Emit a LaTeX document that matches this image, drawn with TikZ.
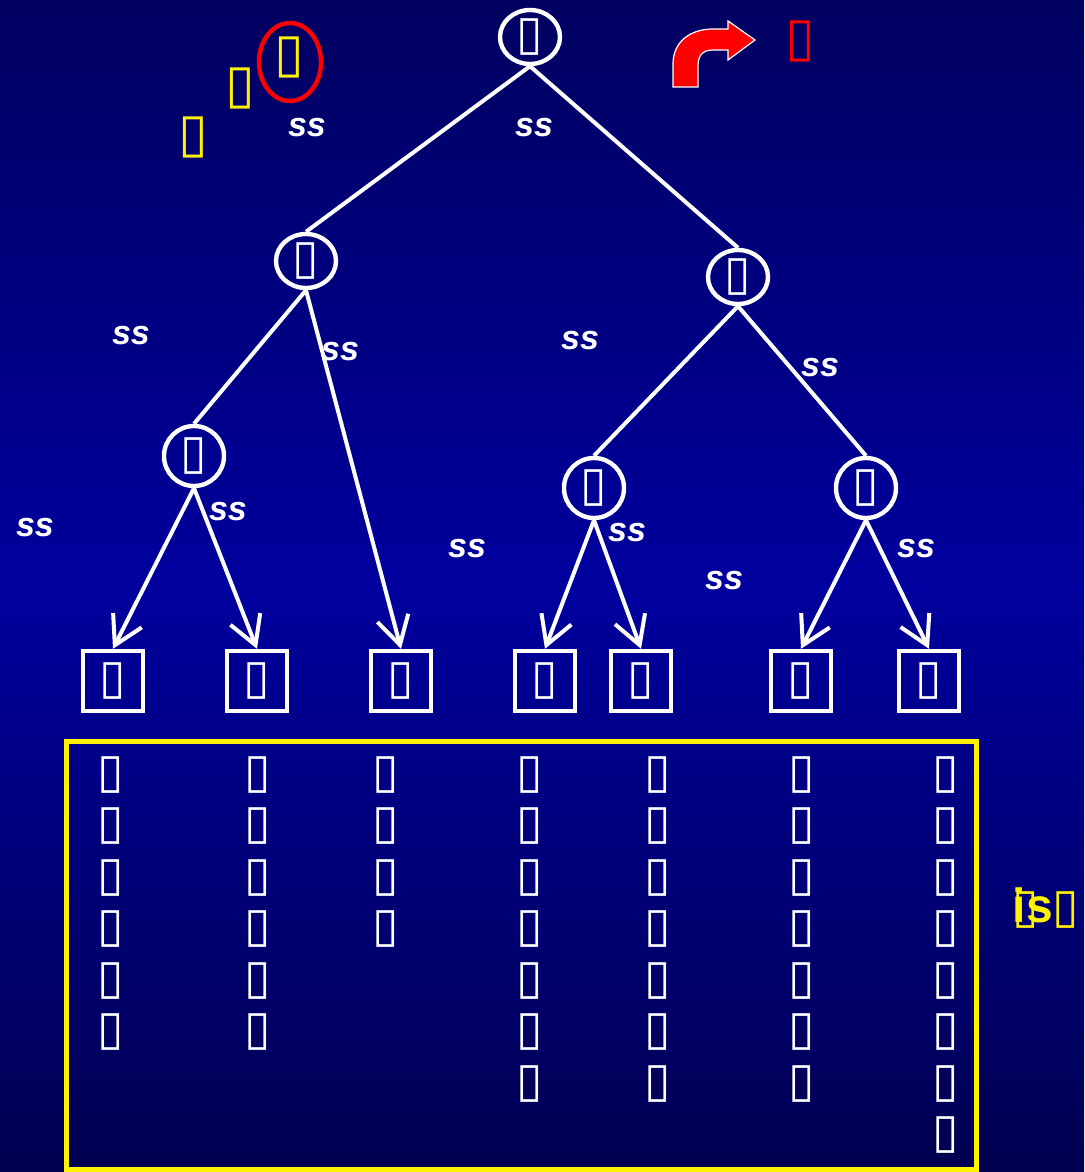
\documentclass[tikz,border=0pt]{standalone}
\usepackage{fontspec}
\setmainfont{Liberation Sans}
\newfontfamily\boxfont{DejaVu Sans}
\usetikzlibrary{arrows.meta,shapes.geometric,positioning}
\definecolor{navytop}{RGB}{0,0,96}
\definecolor{navymid}{RGB}{0,0,158}
\definecolor{navybot}{RGB}{0,0,80}
\newcommand{\tf}{{\boxfont\symbol{"25AF}}}

\begin{document}
\begin{tikzpicture}[x=0.5pt,y=-0.5pt,
  every node/.style={text=white,font=\fontsize{24}{26}\selectfont},
  innernode/.style={draw=white,line width=2.2pt,ellipse,inner sep=0pt,minimum width=30pt,minimum height=27pt},
  roundnode/.style={innernode,minimum height=30pt},
  leafnode/.style={draw=white,line width=2.2pt,rectangle,inner sep=0pt,minimum size=30pt},
  branch/.style={draw=white,line width=2pt},
  arr/.style={branch,line cap=round,-{Straight Barb[length=14pt,width=16pt,line width=2pt]}},
  lab/.style={font=\fontsize{17}{19}\selectfont\bfseries\itshape},
  hint/.style={font=\fontsize{27}{29}\selectfont,text=yellow},
  col/.style={font=\fontsize{24}{26}\selectfont}]
\useasboundingbox (0,0) rectangle (1084,1172);
\shade[top color=navytop,bottom color=navybot,middle color=navymid] (0,0) rectangle (1084,1172);

% tree
\node[innernode] (root) at (530,37) {\tf};
\node[innernode] (L) at (306,261) {\tf};
\node[innernode] (R) at (738,277) {\tf};
\node[roundnode] (LL) at (194,456) {\tf};
\node[roundnode] (RL) at (594,488) {\tf};
\node[roundnode] (RR) at (866,488) {\tf};

\foreach \n/\x in {1/113,2/257,3/401,4/545,5/641,6/801,7/929}
  \node[leafnode] (k\n) at (\x,681) {\tf};

\draw[branch] (root.south) -- (L.north);
\draw[branch] (root.south) -- (R.north);
\draw[branch] (L.south) -- (LL.north);
\draw[branch] (R.south) -- (RL.north);
\draw[branch] (R.south) -- (RR.north);
\draw[arr] (L.south) -- (k3.north);
\draw[arr] (LL.south) -- (k1.north);
\draw[arr] (LL.south) -- (k2.north);
\draw[arr] (RL.south) -- (k4.north);
\draw[arr] (RL.south) -- (k5.north);
\draw[arr] (RR.south) -- (k6.north);
\draw[arr] (RR.south) -- (k7.north);

% ss labels
\foreach \x/\y [count=\i] in {307/128,534/128,131/336,340/352,580/341,820/368,
    35/528,228/512,467/549,627/533,724/581,916/549}
  \node[lab] (s\i) at (\x,\y) {ss};

% marks top left
\node[hint] (m1) at (289,57) {\tf};
\node[hint] (m2) at (240,88) {\tf};
\node[hint] (m3) at (193,137) {\tf};
\draw[red,line width=2.2pt] (290,62) ellipse (31 and 39);

% bent arrow
\draw[white,line width=0.6pt,fill=red] (673,87) -- (673,64)
  .. controls (673,42) and (690,29) .. (713,29) -- (728,29) -- (728,21)
  -- (755,40) -- (728,60) -- (728,50) -- (713,50)
  .. controls (703,50) and (698,55) .. (698,66) -- (698,87) -- cycle;
\node[hint,text=red] (m4) at (800,41) {\tf};

% legend box
\draw[yellow,line width=2.5pt] (66.5,741.5) rectangle (976.5,1169.5);
\foreach \x/\n [count=\c] in {111/6,258/6,386/4,530/7,658/7,802/7,946/8}
  \foreach \i in {1,...,\n}
    \node[col] (c\c-\i) at (\x,{775+51.5*(\i-1)}) {\tf};

\node[hint,font=\fontsize{24}{26}\selectfont\bfseries] (is) at (1046,908) {\rlap{\tf}is\tf};
\end{tikzpicture}
\end{document}
